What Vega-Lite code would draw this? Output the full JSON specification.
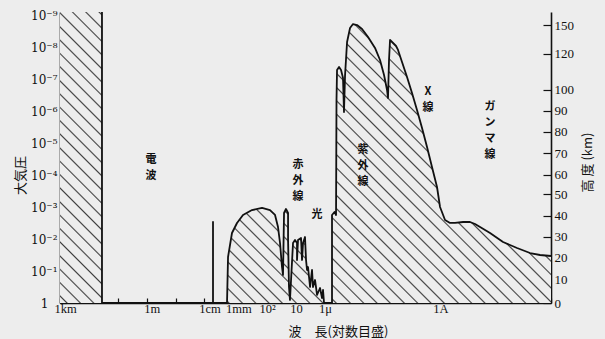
{
  "$schema": "https://vega.github.io/schema/vega-lite/v6.json",
  "width": 491,
  "height": 291,
  "autosize": {"type": "none"},
  "padding": {"left": 60, "top": 12, "right": 54, "bottom": 36},
  "background": "#ededed",
  "config": {
    "view": {"stroke": null},
    "axis": {
      "grid": false,
      "labelFont": "Liberation Serif, DejaVu Serif, serif",
      "labelFontSize": 12.5,
      "labelColor": "#111",
      "domainColor": "#111",
      "domainWidth": 1.6,
      "tickColor": "#111",
      "tickWidth": 1.2,
      "titleFont": "Noto Sans CJK JP",
      "titleFontSize": 13,
      "titleFontWeight": "normal",
      "titleColor": "#111",
      "labelOverlap": false,
      "labelFlush": false,
      "zindex": 1
    }
  },
  "datasets": {
    "curve": [
      {"lam": 1000, "p": 7.55e-10, "o": 0},
      {"lam": 35.2, "p": 7.55e-10, "o": 1},
      {"lam": 35.2, "p": 1, "o": 1},
      {"lam": 0.00504, "p": 1, "o": 1},
      {"lam": 0.00504, "p": 0.00289, "o": 1},
      {"lam": 0.00504, "p": 1, "o": 1},
      {"lam": 0.00165, "p": 1, "o": 1},
      {"lam": 0.00152, "p": 0.0361, "o": 1},
      {"lam": 0.00111, "p": 0.00639, "o": 1},
      {"lam": 0.000743, "p": 0.0031, "o": 1},
      {"lam": 0.000461, "p": 0.00174, "o": 1},
      {"lam": 0.000225, "p": 0.00122, "o": 1},
      {"lam": 0.000101, "p": 0.00105, "o": 1},
      {"lam": 0.0000536, "p": 0.00122, "o": 1},
      {"lam": 0.0000359, "p": 0.00174, "o": 1},
      {"lam": 0.0000283, "p": 0.00415, "o": 1},
      {"lam": 0.0000241, "p": 0.01315, "o": 1},
      {"lam": 0.0000206, "p": 0.0744, "o": 1},
      {"lam": 0.000019, "p": 0.1325, "o": 1},
      {"lam": 0.0000175, "p": 0.00151, "o": 1},
      {"lam": 0.000015, "p": 0.00113, "o": 1},
      {"lam": 0.0000127, "p": 0.00151, "o": 1},
      {"lam": 0.0000127, "p": 0.0106, "o": 1},
      {"lam": 0.0000118, "p": 0.315, "o": 1},
      {"lam": 0.0000109, "p": 0.805, "o": 1},
      {"lam": 0.00000855, "p": 0.01315, "o": 1},
      {"lam": 0.0000073, "p": 0.0106, "o": 1},
      {"lam": 0.00000622, "p": 0.01315, "o": 1},
      {"lam": 0.00000622, "p": 0.0449, "o": 1},
      {"lam": 0.00000574, "p": 0.0106, "o": 1},
      {"lam": 0.00000452, "p": 0.00917, "o": 1},
      {"lam": 0.00000417, "p": 0.0449, "o": 1},
      {"lam": 0.00000385, "p": 0.01315, "o": 1},
      {"lam": 0.00000329, "p": 0.00853, "o": 1},
      {"lam": 0.00000303, "p": 0.0449, "o": 1},
      {"lam": 0.0000028, "p": 0.0924, "o": 1},
      {"lam": 0.00000259, "p": 0.0744, "o": 1},
      {"lam": 0.0000022, "p": 0.315, "o": 1},
      {"lam": 0.00000188, "p": 0.0924, "o": 1},
      {"lam": 0.00000174, "p": 0.315, "o": 1},
      {"lam": 0.00000148, "p": 0.19, "o": 1},
      {"lam": 0.00000126, "p": 0.561, "o": 1},
      {"lam": 0.000000993, "p": 0.339, "o": 1},
      {"lam": 0.000000847, "p": 0.697, "o": 1},
      {"lam": 0.000000782, "p": 0.391, "o": 1},
      {"lam": 0.000000722, "p": 1, "o": 1},
      {"lam": 0.000000382, "p": 1, "o": 1},
      {"lam": 0.000000382, "p": 0.00174, "o": 1},
      {"lam": 0.000000313, "p": 0.0014, "o": 1},
      {"lam": 0.000000277, "p": 0.00174, "o": 1},
      {"lam": 0.000000267, "p": 4.33e-7, "o": 1},
      {"lam": 0.000000256, "p": 4.97e-8, "o": 1},
      {"lam": 0.000000218, "p": 4.0e-8, "o": 1},
      {"lam": 0.000000186, "p": 4.97e-8, "o": 1},
      {"lam": 0.000000159, "p": 8.85e-8, "o": 1},
      {"lam": 0.000000147, "p": 0.00000103, "o": 1},
      {"lam": 0.000000135, "p": 7.13e-8, "o": 1},
      {"lam": 0.000000115, "p": 6.58e-9, "o": 1},
      {"lam": 9.08e-8, "p": 2.39e-9, "o": 1},
      {"lam": 7.16e-8, "p": 1.8e-9, "o": 1},
      {"lam": 5.2e-8, "p": 1.93e-9, "o": 1},
      {"lam": 3.49e-8, "p": 2.57e-9, "o": 1},
      {"lam": 2.16e-8, "p": 4.58e-9, "o": 1},
      {"lam": 1.24e-8, "p": 1.01e-8, "o": 1},
      {"lam": 8.32e-9, "p": 2.41e-8, "o": 1},
      {"lam": 6.04e-9, "p": 7.13e-8, "o": 1},
      {"lam": 4.75e-9, "p": 2.1e-7, "o": 1},
      {"lam": 4.4e-9, "p": 3.75e-7, "o": 1},
      {"lam": 4.06e-9, "p": 2.41e-8, "o": 1},
      {"lam": 3.74e-9, "p": 5.69e-9, "o": 1},
      {"lam": 3.19e-9, "p": 6.58e-9, "o": 1},
      {"lam": 2.32e-9, "p": 8.78e-9, "o": 1},
      {"lam": 1.98e-9, "p": 1.17e-8, "o": 1},
      {"lam": 1.44e-9, "p": 2.79e-8, "o": 1},
      {"lam": 9.66e-10, "p": 8.23e-8, "o": 1},
      {"lam": 6.49e-10, "p": 2.61e-7, "o": 1},
      {"lam": 4.36e-10, "p": 8.91e-7, "o": 1},
      {"lam": 2.92e-10, "p": 0.00000327, "o": 1},
      {"lam": 1.96e-10, "p": 0.0000129, "o": 1},
      {"lam": 1.32e-10, "p": 0.0000545, "o": 1},
      {"lam": 8.84e-11, "p": 0.000231, "o": 1},
      {"lam": 6.95e-11, "p": 0.000979, "o": 1},
      {"lam": 4.67e-11, "p": 0.0025, "o": 1},
      {"lam": 3.13e-11, "p": 0.0031, "o": 1},
      {"lam": 2.1e-11, "p": 0.0031, "o": 1},
      {"lam": 1.11e-11, "p": 0.00289, "o": 1},
      {"lam": 6.36e-12, "p": 0.00289, "o": 1},
      {"lam": 4.27e-12, "p": 0.00334, "o": 1},
      {"lam": 2.86e-12, "p": 0.00415, "o": 1},
      {"lam": 1.29e-12, "p": 0.00639, "o": 1},
      {"lam": 4.58e-13, "p": 0.01224, "o": 1},
      {"lam": 1.5e-13, "p": 0.01888, "o": 1},
      {"lam": 5.32e-14, "p": 0.0271, "o": 1},
      {"lam": 2.4e-14, "p": 0.0313, "o": 1},
      {"lam": 1.0e-14, "p": 0.0336, "o": 1}
    ],
    "labels": [
      {"lam": 0.706, "p": 0.0000329, "t": "電\n波"},
      {"lam": 0.00000574, "p": 0.0000472, "t": "赤\n外\n線"},
      {"lam": 0.00000126, "p": 0.00174, "t": "光"},
      {"lam": 3.22e-8, "p": 0.000016, "t": "紫\n外\n線"},
      {"lam": 1.81e-10, "p": 2.52e-7, "t": "X\n線"},
      {"lam": 1.29e-12, "p": 7.43e-7, "t": "ガ\nン\nマ\n線"}
    ]
  },
  "encoding": {
    "x": {
      "field": "lam",
      "type": "quantitative",
      "scale": {"type": "log", "domain": [1e-14, 1000], "reverse": true, "nice": false},
      "axis": {
        "values": [1000, 100, 10, 1, 0.1, 0.01, 0.001, 0.0001, 0.00001, 0.000001, 1e-7, 1e-8, 1e-9, 1e-10, 1e-11, 1e-12, 1e-13, 1e-14],
        "labelExpr": "datum.value == 1000 ? '1km' : datum.value == 1 ? '1m' : datum.value == 0.01 ? '1cm' : datum.value == 0.001 ? '1mm' : datum.value == 0.0001 ? '10²' : datum.value == 0.00001 ? '10' : datum.value == 0.000001 ? '1μ' : datum.value == 1e-10 ? '1A' : ''",
        "tickSize": -5,
        "labelPadding": 4,
        "labelOffset": 5,
        "title": "波　長(対数目盛)",
        "titleX": 278,
        "titleY": 28,
        "titleAlign": "center",
        "titleBaseline": "middle"
      }
    }
  },
  "layer": [
    {
      "data": {"name": "curve"},
      "mark": {
        "type": "area",
        "fill": {
          "gradient": "linear",
          "x1": 0, "y1": 1, "x2": 1.179, "y2": 0.301,
          "stops": [
            {"offset": 0.007, "color": "#ededed"}, {"offset": 0.009, "color": "#404040"}, {"offset": 0.011, "color": "#ededed"},
            {"offset": 0.024, "color": "#ededed"}, {"offset": 0.026, "color": "#404040"}, {"offset": 0.028, "color": "#ededed"},
            {"offset": 0.041, "color": "#ededed"}, {"offset": 0.043, "color": "#404040"}, {"offset": 0.045, "color": "#ededed"},
            {"offset": 0.058, "color": "#ededed"}, {"offset": 0.060, "color": "#404040"}, {"offset": 0.062, "color": "#ededed"},
            {"offset": 0.076, "color": "#ededed"}, {"offset": 0.078, "color": "#404040"}, {"offset": 0.080, "color": "#ededed"},
            {"offset": 0.093, "color": "#ededed"}, {"offset": 0.095, "color": "#404040"}, {"offset": 0.097, "color": "#ededed"},
            {"offset": 0.110, "color": "#ededed"}, {"offset": 0.112, "color": "#404040"}, {"offset": 0.114, "color": "#ededed"},
            {"offset": 0.127, "color": "#ededed"}, {"offset": 0.129, "color": "#404040"}, {"offset": 0.131, "color": "#ededed"},
            {"offset": 0.145, "color": "#ededed"}, {"offset": 0.147, "color": "#404040"}, {"offset": 0.149, "color": "#ededed"},
            {"offset": 0.162, "color": "#ededed"}, {"offset": 0.164, "color": "#404040"}, {"offset": 0.166, "color": "#ededed"},
            {"offset": 0.179, "color": "#ededed"}, {"offset": 0.181, "color": "#404040"}, {"offset": 0.183, "color": "#ededed"},
            {"offset": 0.196, "color": "#ededed"}, {"offset": 0.198, "color": "#404040"}, {"offset": 0.200, "color": "#ededed"},
            {"offset": 0.214, "color": "#ededed"}, {"offset": 0.216, "color": "#404040"}, {"offset": 0.218, "color": "#ededed"},
            {"offset": 0.231, "color": "#ededed"}, {"offset": 0.233, "color": "#404040"}, {"offset": 0.235, "color": "#ededed"},
            {"offset": 0.248, "color": "#ededed"}, {"offset": 0.250, "color": "#404040"}, {"offset": 0.252, "color": "#ededed"},
            {"offset": 0.265, "color": "#ededed"}, {"offset": 0.267, "color": "#404040"}, {"offset": 0.269, "color": "#ededed"},
            {"offset": 0.282, "color": "#ededed"}, {"offset": 0.284, "color": "#404040"}, {"offset": 0.286, "color": "#ededed"},
            {"offset": 0.300, "color": "#ededed"}, {"offset": 0.302, "color": "#404040"}, {"offset": 0.304, "color": "#ededed"},
            {"offset": 0.317, "color": "#ededed"}, {"offset": 0.319, "color": "#404040"}, {"offset": 0.321, "color": "#ededed"},
            {"offset": 0.334, "color": "#ededed"}, {"offset": 0.336, "color": "#404040"}, {"offset": 0.338, "color": "#ededed"},
            {"offset": 0.351, "color": "#ededed"}, {"offset": 0.353, "color": "#404040"}, {"offset": 0.355, "color": "#ededed"},
            {"offset": 0.369, "color": "#ededed"}, {"offset": 0.371, "color": "#404040"}, {"offset": 0.373, "color": "#ededed"},
            {"offset": 0.386, "color": "#ededed"}, {"offset": 0.388, "color": "#404040"}, {"offset": 0.390, "color": "#ededed"},
            {"offset": 0.403, "color": "#ededed"}, {"offset": 0.405, "color": "#404040"}, {"offset": 0.407, "color": "#ededed"},
            {"offset": 0.420, "color": "#ededed"}, {"offset": 0.422, "color": "#404040"}, {"offset": 0.424, "color": "#ededed"},
            {"offset": 0.438, "color": "#ededed"}, {"offset": 0.440, "color": "#404040"}, {"offset": 0.442, "color": "#ededed"},
            {"offset": 0.455, "color": "#ededed"}, {"offset": 0.457, "color": "#404040"}, {"offset": 0.459, "color": "#ededed"},
            {"offset": 0.472, "color": "#ededed"}, {"offset": 0.474, "color": "#404040"}, {"offset": 0.476, "color": "#ededed"},
            {"offset": 0.489, "color": "#ededed"}, {"offset": 0.491, "color": "#404040"}, {"offset": 0.493, "color": "#ededed"},
            {"offset": 0.507, "color": "#ededed"}, {"offset": 0.509, "color": "#404040"}, {"offset": 0.511, "color": "#ededed"},
            {"offset": 0.524, "color": "#ededed"}, {"offset": 0.526, "color": "#404040"}, {"offset": 0.528, "color": "#ededed"},
            {"offset": 0.541, "color": "#ededed"}, {"offset": 0.543, "color": "#404040"}, {"offset": 0.545, "color": "#ededed"},
            {"offset": 0.558, "color": "#ededed"}, {"offset": 0.560, "color": "#404040"}, {"offset": 0.562, "color": "#ededed"},
            {"offset": 0.576, "color": "#ededed"}, {"offset": 0.578, "color": "#404040"}, {"offset": 0.580, "color": "#ededed"},
            {"offset": 0.593, "color": "#ededed"}, {"offset": 0.595, "color": "#404040"}, {"offset": 0.597, "color": "#ededed"},
            {"offset": 0.610, "color": "#ededed"}, {"offset": 0.612, "color": "#404040"}, {"offset": 0.614, "color": "#ededed"},
            {"offset": 0.627, "color": "#ededed"}, {"offset": 0.629, "color": "#404040"}, {"offset": 0.631, "color": "#ededed"},
            {"offset": 0.645, "color": "#ededed"}, {"offset": 0.647, "color": "#404040"}, {"offset": 0.649, "color": "#ededed"},
            {"offset": 0.662, "color": "#ededed"}, {"offset": 0.664, "color": "#404040"}, {"offset": 0.666, "color": "#ededed"},
            {"offset": 0.679, "color": "#ededed"}, {"offset": 0.681, "color": "#404040"}, {"offset": 0.683, "color": "#ededed"},
            {"offset": 0.696, "color": "#ededed"}, {"offset": 0.698, "color": "#404040"}, {"offset": 0.700, "color": "#ededed"},
            {"offset": 0.714, "color": "#ededed"}, {"offset": 0.716, "color": "#404040"}, {"offset": 0.718, "color": "#ededed"},
            {"offset": 0.731, "color": "#ededed"}, {"offset": 0.733, "color": "#404040"}, {"offset": 0.735, "color": "#ededed"},
            {"offset": 0.748, "color": "#ededed"}, {"offset": 0.750, "color": "#404040"}, {"offset": 0.752, "color": "#ededed"},
            {"offset": 0.765, "color": "#ededed"}, {"offset": 0.767, "color": "#404040"}, {"offset": 0.769, "color": "#ededed"},
            {"offset": 0.782, "color": "#ededed"}, {"offset": 0.784, "color": "#404040"}, {"offset": 0.786, "color": "#ededed"},
            {"offset": 0.800, "color": "#ededed"}, {"offset": 0.802, "color": "#404040"}, {"offset": 0.804, "color": "#ededed"},
            {"offset": 0.817, "color": "#ededed"}, {"offset": 0.819, "color": "#404040"}, {"offset": 0.821, "color": "#ededed"},
            {"offset": 0.834, "color": "#ededed"}, {"offset": 0.836, "color": "#404040"}, {"offset": 0.838, "color": "#ededed"},
            {"offset": 0.851, "color": "#ededed"}, {"offset": 0.853, "color": "#404040"}, {"offset": 0.855, "color": "#ededed"},
            {"offset": 0.869, "color": "#ededed"}, {"offset": 0.871, "color": "#404040"}, {"offset": 0.873, "color": "#ededed"},
            {"offset": 0.886, "color": "#ededed"}, {"offset": 0.888, "color": "#404040"}, {"offset": 0.890, "color": "#ededed"},
            {"offset": 0.903, "color": "#ededed"}, {"offset": 0.905, "color": "#404040"}, {"offset": 0.907, "color": "#ededed"},
            {"offset": 0.920, "color": "#ededed"}, {"offset": 0.922, "color": "#404040"}, {"offset": 0.924, "color": "#ededed"},
            {"offset": 0.938, "color": "#ededed"}, {"offset": 0.940, "color": "#404040"}, {"offset": 0.942, "color": "#ededed"},
            {"offset": 0.955, "color": "#ededed"}, {"offset": 0.957, "color": "#404040"}, {"offset": 0.959, "color": "#ededed"},
            {"offset": 0.972, "color": "#ededed"}, {"offset": 0.974, "color": "#404040"}, {"offset": 0.976, "color": "#ededed"},
            {"offset": 0.989, "color": "#ededed"}, {"offset": 0.991, "color": "#404040"}, {"offset": 0.993, "color": "#ededed"}
          ]
        }
      },
      "encoding": {
        "y": {
          "field": "p",
          "type": "quantitative",
          "scale": {"type": "log", "domain": [7.55e-10, 1], "reverse": true, "nice": false},
          "axis": {
            "orient": "left",
            "values": [1, 0.1, 0.01, 0.001, 0.0001, 0.00001, 0.000001, 1e-7, 1e-8, 1e-9],
            "labelExpr": "datum.value >= 1 ? '1' : '10' + ['', '⁻¹', '⁻²', '⁻³', '⁻⁴', '⁻⁵', '⁻⁶', '⁻⁷', '⁻⁸', '⁻⁹'][round(-log(datum.value) / LN10)]",
            "labelFont": "DejaVu Serif, serif",
            "labelFontSize": 12,
            "tickSize": -6,
            "labelPadding": {"condition": {"test": "datum.value >= 1", "value": 18}, "value": 9},
            "title": "大気圧",
            "titleX": -40,
            "titleY": 163,
            "titleAlign": "center",
            "titleBaseline": "middle"
          }
        },
        "y2": {"datum": 1},
        "order": {"value": null}
      }
    },
    {
      "data": {"name": "curve"},
      "transform": [{"filter": "datum.o == 1"}],
      "mark": {"type": "line", "stroke": "#111", "strokeWidth": 1.8, "strokeJoin": "round"},
      "encoding": {
        "y": {
          "field": "p",
          "type": "quantitative",
          "scale": {"type": "log", "domain": [7.55e-10, 1], "reverse": true, "nice": false},
          "axis": {
            "orient": "right",
            "values": [1, 0.177, 0.0375, 0.00853, 0.00187, 0.000383, 0.0000971, 0.0000199, 0.00000436, 0.000000957, 0.00000021, 0.0000000156, 0.00000000193],
            "labelExpr": "datum.value > 0.42 ? '0' : datum.value > 0.08 ? '10' : datum.value > 0.018 ? '20' : datum.value > 0.004 ? '30' : datum.value > 0.00085 ? '40' : datum.value > 0.00019 ? '50' : datum.value > 0.000044 ? '60' : datum.value > 0.0000093 ? '70' : datum.value > 0.000002 ? '80' : datum.value > 0.00000045 ? '90' : datum.value > 0.000000057 ? '100' : datum.value > 0.0000000055 ? '120' : '150'",
            "labelFontSize": 13,
            "tickSize": -8,
            "labelPadding": 11,
            "title": "高 度 (km)",
            "titleAngle": -90,
            "titleX": 36,
            "titleY": 150,
            "titleAlign": "center",
            "titleBaseline": "middle"
          }
        },
        "order": {"value": null}
      }
    },
    {
      "data": {"name": "labels"},
      "mark": {"type": "text", "lineBreak": "\n", "font": "Noto Sans CJK JP", "fontSize": 11, "fontWeight": "bold", "lineHeight": 16, "color": "#111", "align": "center", "baseline": "middle"},
      "encoding": {
        "y": {
          "field": "p",
          "type": "quantitative",
          "scale": {"type": "log", "domain": [7.55e-10, 1], "reverse": true, "nice": false},
          "axis": null
        },
        "text": {"field": "t"}
      }
    }
  ],
  "resolve": {"scale": {"y": "independent"}}
}
